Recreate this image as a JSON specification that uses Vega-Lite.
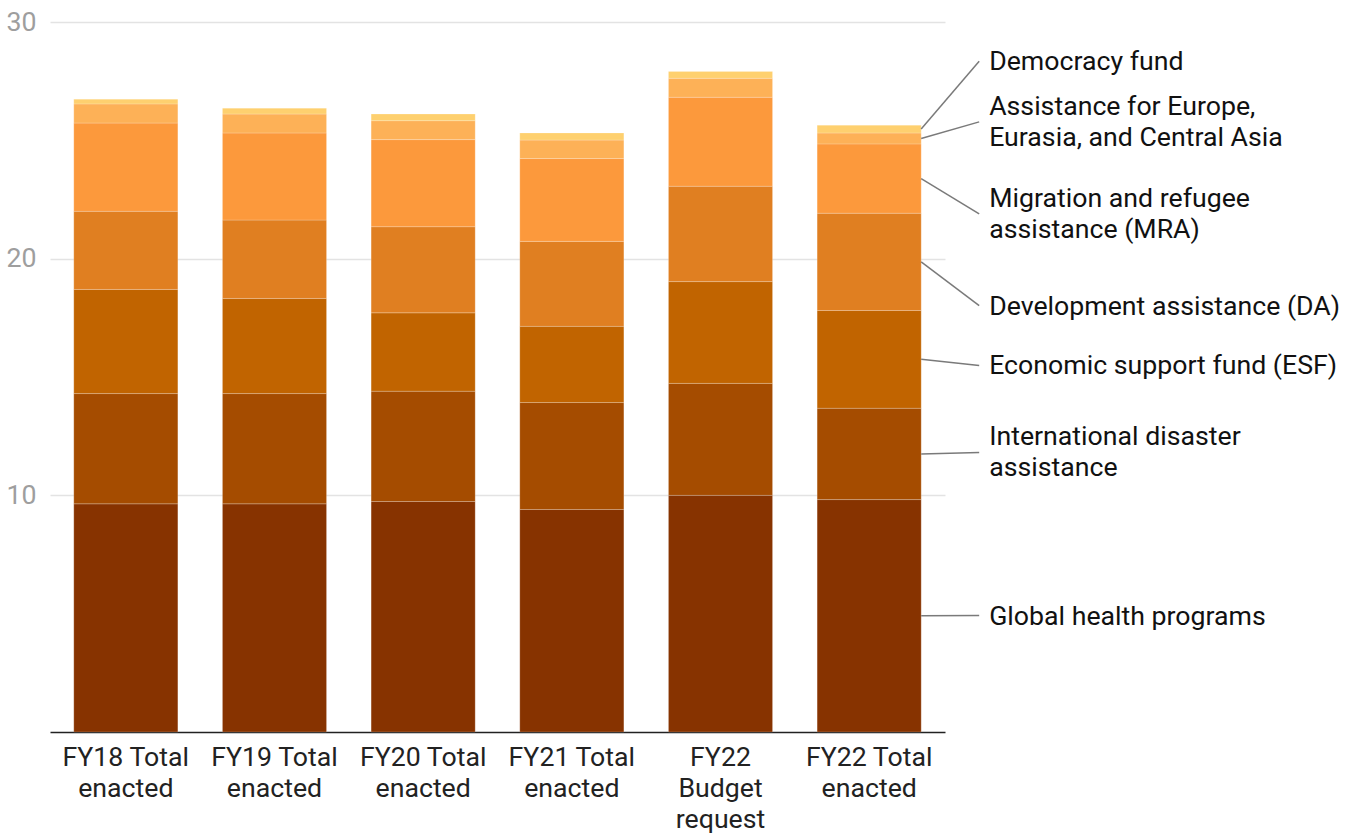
{
  "$schema": "https://vega.github.io/schema/vega-lite/v6.json",
  "width": 895,
  "height": 710,
  "autosize": {"type": "none"},
  "padding": {"left": 50, "top": 22, "right": 410, "bottom": 102},
  "background": "#ffffff",
  "config": {
    "view": {"stroke": null},
    "font": "Roboto",
    "text": {"font": "Roboto"}
  },
  "datasets": {
    "budget": [
      {"period": "FY18 Total enacted", "series": "Global health programs", "value": 9.64},
      {"period": "FY18 Total enacted", "series": "International disaster assistance", "value": 4.66},
      {"period": "FY18 Total enacted", "series": "Economic support fund (ESF)", "value": 4.40},
      {"period": "FY18 Total enacted", "series": "Development assistance (DA)", "value": 3.30},
      {"period": "FY18 Total enacted", "series": "Migration and refugee assistance (MRA)", "value": 3.73},
      {"period": "FY18 Total enacted", "series": "Assistance for Europe, Eurasia, and Central Asia", "value": 0.81},
      {"period": "FY18 Total enacted", "series": "Democracy fund", "value": 0.20},
      {"period": "FY19 Total enacted", "series": "Global health programs", "value": 9.64},
      {"period": "FY19 Total enacted", "series": "International disaster assistance", "value": 4.66},
      {"period": "FY19 Total enacted", "series": "Economic support fund (ESF)", "value": 4.02},
      {"period": "FY19 Total enacted", "series": "Development assistance (DA)", "value": 3.31},
      {"period": "FY19 Total enacted", "series": "Migration and refugee assistance (MRA)", "value": 3.68},
      {"period": "FY19 Total enacted", "series": "Assistance for Europe, Eurasia, and Central Asia", "value": 0.80},
      {"period": "FY19 Total enacted", "series": "Democracy fund", "value": 0.25},
      {"period": "FY20 Total enacted", "series": "Global health programs", "value": 9.74},
      {"period": "FY20 Total enacted", "series": "International disaster assistance", "value": 4.66},
      {"period": "FY20 Total enacted", "series": "Economic support fund (ESF)", "value": 3.31},
      {"period": "FY20 Total enacted", "series": "Development assistance (DA)", "value": 3.64},
      {"period": "FY20 Total enacted", "series": "Migration and refugee assistance (MRA)", "value": 3.68},
      {"period": "FY20 Total enacted", "series": "Assistance for Europe, Eurasia, and Central Asia", "value": 0.80},
      {"period": "FY20 Total enacted", "series": "Democracy fund", "value": 0.28},
      {"period": "FY21 Total enacted", "series": "Global health programs", "value": 9.40},
      {"period": "FY21 Total enacted", "series": "International disaster assistance", "value": 4.52},
      {"period": "FY21 Total enacted", "series": "Economic support fund (ESF)", "value": 3.22},
      {"period": "FY21 Total enacted", "series": "Development assistance (DA)", "value": 3.59},
      {"period": "FY21 Total enacted", "series": "Migration and refugee assistance (MRA)", "value": 3.50},
      {"period": "FY21 Total enacted", "series": "Assistance for Europe, Eurasia, and Central Asia", "value": 0.78},
      {"period": "FY21 Total enacted", "series": "Democracy fund", "value": 0.30},
      {"period": "FY22 Budget request", "series": "Global health programs", "value": 10.00},
      {"period": "FY22 Budget request", "series": "International disaster assistance", "value": 4.73},
      {"period": "FY22 Budget request", "series": "Economic support fund (ESF)", "value": 4.30},
      {"period": "FY22 Budget request", "series": "Development assistance (DA)", "value": 4.03},
      {"period": "FY22 Budget request", "series": "Migration and refugee assistance (MRA)", "value": 3.76},
      {"period": "FY22 Budget request", "series": "Assistance for Europe, Eurasia, and Central Asia", "value": 0.80},
      {"period": "FY22 Budget request", "series": "Democracy fund", "value": 0.29},
      {"period": "FY22 Total enacted", "series": "Global health programs", "value": 9.82},
      {"period": "FY22 Total enacted", "series": "International disaster assistance", "value": 3.86},
      {"period": "FY22 Total enacted", "series": "Economic support fund (ESF)", "value": 4.13},
      {"period": "FY22 Total enacted", "series": "Development assistance (DA)", "value": 4.11},
      {"period": "FY22 Total enacted", "series": "Migration and refugee assistance (MRA)", "value": 2.93},
      {"period": "FY22 Total enacted", "series": "Assistance for Europe, Eurasia, and Central Asia", "value": 0.46},
      {"period": "FY22 Total enacted", "series": "Democracy fund", "value": 0.33}
    ],
    "labels": [
      {"series": "Democracy fund", "label": "Democracy fund", "lines": 1, "label_y": 28.34},
      {"series": "Assistance for Europe, Eurasia, and Central Asia", "label": "Assistance for Europe,|Eurasia, and Central Asia", "lines": 2, "label_y": 25.78},
      {"series": "Migration and refugee assistance (MRA)", "label": "Migration and refugee|assistance (MRA)", "lines": 2, "label_y": 21.89},
      {"series": "Development assistance (DA)", "label": "Development assistance (DA)", "lines": 1, "label_y": 18.02},
      {"series": "Economic support fund (ESF)", "label": "Economic support fund (ESF)", "lines": 1, "label_y": 15.49},
      {"series": "International disaster assistance", "label": "International disaster|assistance", "lines": 2, "label_y": 11.81},
      {"series": "Global health programs", "label": "Global health programs", "lines": 1, "label_y": 4.92}
    ]
  },
  "layer": [
    {
      "data": {"name": "budget"},
      "transform": [
        {"calculate": "indexof(['Global health programs','International disaster assistance','Economic support fund (ESF)','Development assistance (DA)','Migration and refugee assistance (MRA)','Assistance for Europe, Eurasia, and Central Asia','Democracy fund'], datum.series)", "as": "idx"}
      ],
      "mark": {"type": "bar", "stroke": "#ffffff", "strokeWidth": 1, "strokeOpacity": 0.2},
      "encoding": {
        "x": {
          "field": "period", "type": "nominal", "sort": null,
          "scale": {"paddingInner": 0.3, "paddingOuter": 0.16},
          "axis": {
            "title": null, "labelAngle": 0, "labelFont": "Roboto", "labelFontSize": 26.7,
            "labelColor": "#222222", "labelLineHeight": 31, "labelPadding": 12,
            "ticks": false, "domain": true, "domainColor": "#222222", "domainWidth": 1.5,
            "labelExpr": "datum.value == 'FY22 Budget request' ? ['FY22', 'Budget', 'request'] : [slice(datum.value, 0, 10), slice(datum.value, 11)]"
          }
        },
        "y": {
          "field": "value", "type": "quantitative", "stack": "zero",
          "scale": {"domain": [0, 30], "nice": false},
          "axis": {
            "title": null, "values": [10, 20, 30], "labelFont": "Roboto", "labelFontSize": 26.7,
            "labelColor": "#9e9e9e", "labelPadding": 14, "ticks": false, "domain": false,
            "grid": true, "gridColor": "#e3e3e3", "gridWidth": 1.5
          }
        },
        "color": {
          "field": "series", "type": "nominal", "legend": null,
          "scale": {
            "domain": ["Global health programs", "International disaster assistance", "Economic support fund (ESF)", "Development assistance (DA)", "Migration and refugee assistance (MRA)", "Assistance for Europe, Eurasia, and Central Asia", "Democracy fund"],
            "range": ["#873300", "#a54c00", "#c16400", "#e07f21", "#fc993c", "#fdb157", "#fed06f"]
          }
        },
        "order": {"field": "idx", "type": "quantitative", "sort": "ascending"}
      }
    },
    {
      "data": {"name": "budget"},
      "transform": [
        {"filter": "datum.period == 'FY22 Total enacted'"},
        {"calculate": "indexof(['Global health programs','International disaster assistance','Economic support fund (ESF)','Development assistance (DA)','Migration and refugee assistance (MRA)','Assistance for Europe, Eurasia, and Central Asia','Democracy fund'], datum.series)", "as": "idx"},
        {"stack": "value", "groupby": ["period"], "sort": [{"field": "idx", "order": "ascending"}], "as": ["v0", "v1"]},
        {"calculate": "(datum.v0 + datum.v1) / 2", "as": "mid"},
        {"lookup": "series", "from": {"data": {"name": "labels"}, "key": "series", "fields": ["label", "lines", "label_y"]}}
      ],
      "layer": [
        {
          "mark": {"type": "rule", "color": "#7a7a7a", "strokeWidth": 1.5, "xOffset": 52, "x2Offset": 110},
          "encoding": {
            "x": {"field": "period", "type": "nominal", "sort": null},
            "x2": {"field": "period"},
            "y": {"field": "mid", "type": "quantitative"},
            "y2": {"field": "label_y"}
          }
        },
        {
          "transform": [{"filter": "datum.lines == 1"}],
          "mark": {"type": "text", "align": "left", "baseline": "middle", "xOffset": 120, "yOffset": 1, "font": "Roboto", "fontSize": 26.7, "color": "#111111"},
          "encoding": {
            "x": {"field": "period", "type": "nominal", "sort": null},
            "y": {"field": "label_y", "type": "quantitative"},
            "text": {"field": "label"}
          }
        },
        {
          "transform": [{"filter": "datum.lines == 2"}],
          "mark": {"type": "text", "align": "left", "baseline": "middle", "xOffset": 120, "yOffset": -15, "font": "Roboto", "fontSize": 26.7, "color": "#111111", "lineBreak": "|", "lineHeight": 31},
          "encoding": {
            "x": {"field": "period", "type": "nominal", "sort": null},
            "y": {"field": "label_y", "type": "quantitative"},
            "text": {"field": "label"}
          }
        }
      ]
    }
  ]
}
